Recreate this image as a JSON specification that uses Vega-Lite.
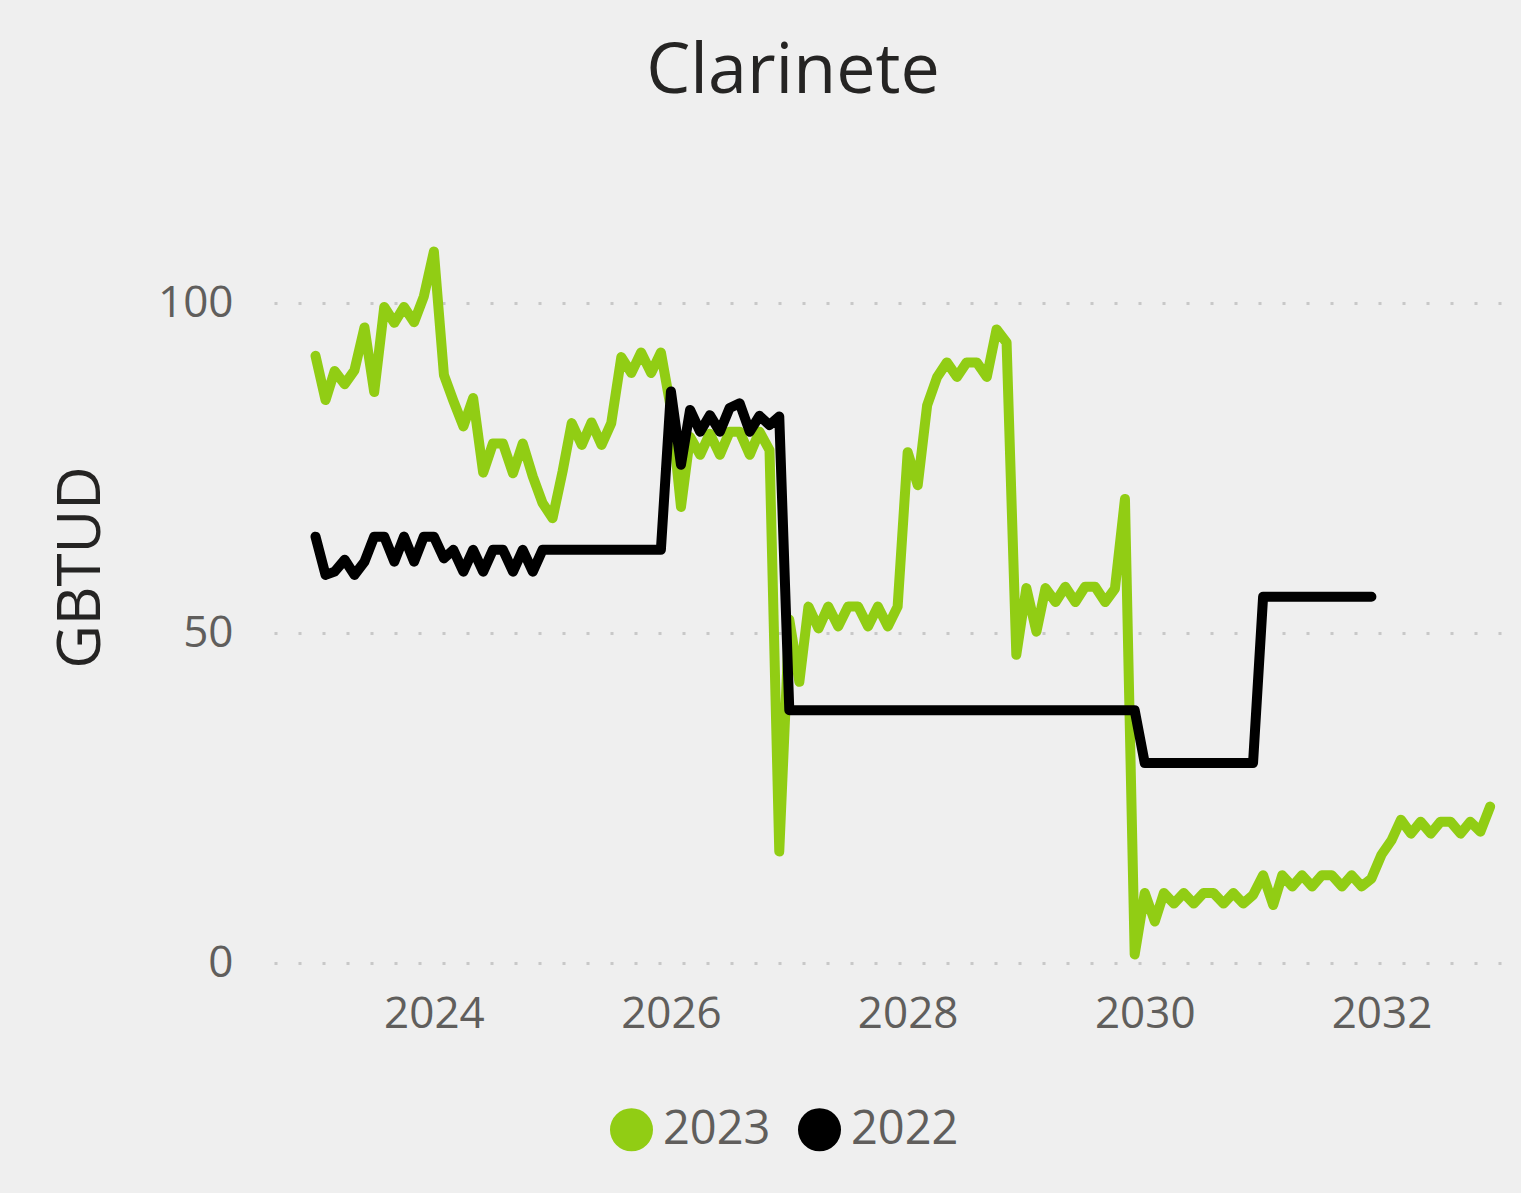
{
  "$schema": "https://vega.github.io/schema/vega-lite/v6.json",
  "autosize": "none",
  "width": 1232,
  "height": 792,
  "padding": {"left": 274, "top": 171, "right": 15, "bottom": 230},
  "background": "#efefef",
  "title": {
    "text": "Clarinete",
    "fontSize": 70,
    "font": "Segoe UI, Open Sans",
    "fontWeight": "normal",
    "color": "#252423",
    "anchor": "middle",
    "dx": -97,
    "offset": 63
  },
  "config": {
    "view": {"stroke": null},
    "font": "Segoe UI, Open Sans"
  },
  "data": {
    "format": {"parse": {"d": "date:'%Y-%m'"}},
    "values": [
      {"d":"2023-01","s":"2023","v":92.0},{"d":"2023-02","s":"2023","v":85.3},{"d":"2023-03","s":"2023","v":89.7},{"d":"2023-04","s":"2023","v":87.7},{"d":"2023-05","s":"2023","v":89.8},{"d":"2023-06","s":"2023","v":96.3},{"d":"2023-07","s":"2023","v":86.5},{"d":"2023-08","s":"2023","v":99.4},{"d":"2023-09","s":"2023","v":97.0},{"d":"2023-10","s":"2023","v":99.4},{"d":"2023-11","s":"2023","v":97.1},{"d":"2023-12","s":"2023","v":101.0},
      {"d":"2024-01","s":"2023","v":107.8},{"d":"2024-02","s":"2023","v":89.1},{"d":"2024-03","s":"2023","v":85.2},{"d":"2024-04","s":"2023","v":81.3},{"d":"2024-05","s":"2023","v":85.6},{"d":"2024-06","s":"2023","v":74.3},{"d":"2024-07","s":"2023","v":78.7},{"d":"2024-08","s":"2023","v":78.7},{"d":"2024-09","s":"2023","v":74.2},{"d":"2024-10","s":"2023","v":78.7},{"d":"2024-11","s":"2023","v":73.7},{"d":"2024-12","s":"2023","v":69.7},
      {"d":"2025-01","s":"2023","v":67.4},{"d":"2025-02","s":"2023","v":74.5},{"d":"2025-03","s":"2023","v":81.8},{"d":"2025-04","s":"2023","v":78.5},{"d":"2025-05","s":"2023","v":81.9},{"d":"2025-06","s":"2023","v":78.5},{"d":"2025-07","s":"2023","v":81.8},{"d":"2025-08","s":"2023","v":91.8},{"d":"2025-09","s":"2023","v":89.4},{"d":"2025-10","s":"2023","v":92.5},{"d":"2025-11","s":"2023","v":89.4},{"d":"2025-12","s":"2023","v":92.5},
      {"d":"2026-01","s":"2023","v":84.0},{"d":"2026-02","s":"2023","v":69.1},{"d":"2026-03","s":"2023","v":79.7},{"d":"2026-04","s":"2023","v":77.0},{"d":"2026-05","s":"2023","v":80.2},{"d":"2026-06","s":"2023","v":77.0},{"d":"2026-07","s":"2023","v":80.5},{"d":"2026-08","s":"2023","v":80.5},{"d":"2026-09","s":"2023","v":77.0},{"d":"2026-10","s":"2023","v":80.5},{"d":"2026-11","s":"2023","v":77.7},{"d":"2026-12","s":"2023","v":16.9},
      {"d":"2027-01","s":"2023","v":52.0},{"d":"2027-02","s":"2023","v":42.6},{"d":"2027-03","s":"2023","v":54.0},{"d":"2027-04","s":"2023","v":50.7},{"d":"2027-05","s":"2023","v":54.0},{"d":"2027-06","s":"2023","v":51.0},{"d":"2027-07","s":"2023","v":54.0},{"d":"2027-08","s":"2023","v":54.0},{"d":"2027-09","s":"2023","v":51.0},{"d":"2027-10","s":"2023","v":54.0},{"d":"2027-11","s":"2023","v":51.0},{"d":"2027-12","s":"2023","v":54.0},
      {"d":"2028-01","s":"2023","v":77.4},{"d":"2028-02","s":"2023","v":72.4},{"d":"2028-03","s":"2023","v":84.5},{"d":"2028-04","s":"2023","v":88.8},{"d":"2028-05","s":"2023","v":91.0},{"d":"2028-06","s":"2023","v":88.8},{"d":"2028-07","s":"2023","v":91.0},{"d":"2028-08","s":"2023","v":91.0},{"d":"2028-09","s":"2023","v":88.8},{"d":"2028-10","s":"2023","v":96.0},{"d":"2028-11","s":"2023","v":94.0},{"d":"2028-12","s":"2023","v":46.7},
      {"d":"2029-01","s":"2023","v":56.8},{"d":"2029-02","s":"2023","v":50.2},{"d":"2029-03","s":"2023","v":56.8},{"d":"2029-04","s":"2023","v":54.7},{"d":"2029-05","s":"2023","v":57.0},{"d":"2029-06","s":"2023","v":54.7},{"d":"2029-07","s":"2023","v":57.0},{"d":"2029-08","s":"2023","v":57.0},{"d":"2029-09","s":"2023","v":54.7},{"d":"2029-10","s":"2023","v":56.7},{"d":"2029-11","s":"2023","v":70.3},{"d":"2029-12","s":"2023","v":1.3},
      {"d":"2030-01","s":"2023","v":10.6},{"d":"2030-02","s":"2023","v":6.3},{"d":"2030-03","s":"2023","v":10.6},{"d":"2030-04","s":"2023","v":9.0},{"d":"2030-05","s":"2023","v":10.6},{"d":"2030-06","s":"2023","v":9.0},{"d":"2030-07","s":"2023","v":10.6},{"d":"2030-08","s":"2023","v":10.6},{"d":"2030-09","s":"2023","v":9.0},{"d":"2030-10","s":"2023","v":10.6},{"d":"2030-11","s":"2023","v":9.0},{"d":"2030-12","s":"2023","v":10.3},
      {"d":"2031-01","s":"2023","v":13.3},{"d":"2031-02","s":"2023","v":8.8},{"d":"2031-03","s":"2023","v":13.3},{"d":"2031-04","s":"2023","v":11.6},{"d":"2031-05","s":"2023","v":13.3},{"d":"2031-06","s":"2023","v":11.6},{"d":"2031-07","s":"2023","v":13.3},{"d":"2031-08","s":"2023","v":13.3},{"d":"2031-09","s":"2023","v":11.6},{"d":"2031-10","s":"2023","v":13.3},{"d":"2031-11","s":"2023","v":11.6},{"d":"2031-12","s":"2023","v":12.8},
      {"d":"2032-01","s":"2023","v":16.4},{"d":"2032-02","s":"2023","v":18.6},{"d":"2032-03","s":"2023","v":21.7},{"d":"2032-04","s":"2023","v":19.6},{"d":"2032-05","s":"2023","v":21.4},{"d":"2032-06","s":"2023","v":19.6},{"d":"2032-07","s":"2023","v":21.4},{"d":"2032-08","s":"2023","v":21.4},{"d":"2032-09","s":"2023","v":19.6},{"d":"2032-10","s":"2023","v":21.4},{"d":"2032-11","s":"2023","v":19.9},{"d":"2032-12","s":"2023","v":23.7},

      {"d":"2023-01","s":"2022","v":64.6},{"d":"2023-02","s":"2022","v":58.8},{"d":"2023-03","s":"2022","v":59.3},{"d":"2023-04","s":"2022","v":61.1},{"d":"2023-05","s":"2022","v":58.8},{"d":"2023-06","s":"2022","v":60.8},{"d":"2023-07","s":"2022","v":64.6},{"d":"2023-08","s":"2022","v":64.6},{"d":"2023-09","s":"2022","v":60.8},{"d":"2023-10","s":"2022","v":64.6},{"d":"2023-11","s":"2022","v":60.8},{"d":"2023-12","s":"2022","v":64.6},
      {"d":"2024-01","s":"2022","v":64.6},{"d":"2024-02","s":"2022","v":61.3},{"d":"2024-03","s":"2022","v":62.6},{"d":"2024-04","s":"2022","v":59.3},{"d":"2024-05","s":"2022","v":62.6},{"d":"2024-06","s":"2022","v":59.3},{"d":"2024-07","s":"2022","v":62.6},{"d":"2024-08","s":"2022","v":62.6},{"d":"2024-09","s":"2022","v":59.3},{"d":"2024-10","s":"2022","v":62.6},{"d":"2024-11","s":"2022","v":59.3},{"d":"2024-12","s":"2022","v":62.6},
      {"d":"2025-01","s":"2022","v":62.6},{"d":"2025-02","s":"2022","v":62.6},{"d":"2025-03","s":"2022","v":62.6},{"d":"2025-04","s":"2022","v":62.6},{"d":"2025-05","s":"2022","v":62.6},{"d":"2025-06","s":"2022","v":62.6},{"d":"2025-07","s":"2022","v":62.6},{"d":"2025-08","s":"2022","v":62.6},{"d":"2025-09","s":"2022","v":62.6},{"d":"2025-10","s":"2022","v":62.6},{"d":"2025-11","s":"2022","v":62.6},{"d":"2025-12","s":"2022","v":62.6},
      {"d":"2026-01","s":"2022","v":86.6},{"d":"2026-02","s":"2022","v":75.5},{"d":"2026-03","s":"2022","v":83.8},{"d":"2026-04","s":"2022","v":80.5},{"d":"2026-05","s":"2022","v":83.0},{"d":"2026-06","s":"2022","v":80.5},{"d":"2026-07","s":"2022","v":84.1},{"d":"2026-08","s":"2022","v":84.8},{"d":"2026-09","s":"2022","v":80.5},{"d":"2026-10","s":"2022","v":82.9},{"d":"2026-11","s":"2022","v":81.5},{"d":"2026-12","s":"2022","v":82.8},
      {"d":"2027-01","s":"2022","v":38.3},{"d":"2027-02","s":"2022","v":38.3},{"d":"2027-03","s":"2022","v":38.3},{"d":"2027-04","s":"2022","v":38.3},{"d":"2027-05","s":"2022","v":38.3},{"d":"2027-06","s":"2022","v":38.3},{"d":"2027-07","s":"2022","v":38.3},{"d":"2027-08","s":"2022","v":38.3},{"d":"2027-09","s":"2022","v":38.3},{"d":"2027-10","s":"2022","v":38.3},{"d":"2027-11","s":"2022","v":38.3},{"d":"2027-12","s":"2022","v":38.3},
      {"d":"2028-01","s":"2022","v":38.3},{"d":"2028-02","s":"2022","v":38.3},{"d":"2028-03","s":"2022","v":38.3},{"d":"2028-04","s":"2022","v":38.3},{"d":"2028-05","s":"2022","v":38.3},{"d":"2028-06","s":"2022","v":38.3},{"d":"2028-07","s":"2022","v":38.3},{"d":"2028-08","s":"2022","v":38.3},{"d":"2028-09","s":"2022","v":38.3},{"d":"2028-10","s":"2022","v":38.3},{"d":"2028-11","s":"2022","v":38.3},{"d":"2028-12","s":"2022","v":38.3},
      {"d":"2029-01","s":"2022","v":38.3},{"d":"2029-02","s":"2022","v":38.3},{"d":"2029-03","s":"2022","v":38.3},{"d":"2029-04","s":"2022","v":38.3},{"d":"2029-05","s":"2022","v":38.3},{"d":"2029-06","s":"2022","v":38.3},{"d":"2029-07","s":"2022","v":38.3},{"d":"2029-08","s":"2022","v":38.3},{"d":"2029-09","s":"2022","v":38.3},{"d":"2029-10","s":"2022","v":38.3},{"d":"2029-11","s":"2022","v":38.3},{"d":"2029-12","s":"2022","v":38.3},
      {"d":"2030-01","s":"2022","v":30.3},{"d":"2030-02","s":"2022","v":30.3},{"d":"2030-03","s":"2022","v":30.3},{"d":"2030-04","s":"2022","v":30.3},{"d":"2030-05","s":"2022","v":30.3},{"d":"2030-06","s":"2022","v":30.3},{"d":"2030-07","s":"2022","v":30.3},{"d":"2030-08","s":"2022","v":30.3},{"d":"2030-09","s":"2022","v":30.3},{"d":"2030-10","s":"2022","v":30.3},{"d":"2030-11","s":"2022","v":30.3},{"d":"2030-12","s":"2022","v":30.3},
      {"d":"2031-01","s":"2022","v":55.5},{"d":"2031-02","s":"2022","v":55.5},{"d":"2031-03","s":"2022","v":55.5},{"d":"2031-04","s":"2022","v":55.5},{"d":"2031-05","s":"2022","v":55.5},{"d":"2031-06","s":"2022","v":55.5},{"d":"2031-07","s":"2022","v":55.5},{"d":"2031-08","s":"2022","v":55.5},{"d":"2031-09","s":"2022","v":55.5},{"d":"2031-10","s":"2022","v":55.5},{"d":"2031-11","s":"2022","v":55.5},{"d":"2031-12","s":"2022","v":55.5}
    ]
  },
  "mark": {"type": "line", "strokeWidth": 10, "strokeJoin": "round", "strokeCap": "round"},
  "encoding": {
    "x": {
      "field": "d",
      "type": "temporal",
      "scale": {"domain": [{"year": 2022, "month": 8, "date": 26}, {"year": 2033, "month": 1, "date": 19}]},
      "axis": {
        "title": null,
        "values": [{"year": 2024, "month": 1, "date": 1}, {"year": 2026, "month": 1, "date": 1}, {"year": 2028, "month": 1, "date": 1}, {"year": 2030, "month": 1, "date": 1}, {"year": 2032, "month": 1, "date": 1}],
        "format": "%Y",
        "grid": false,
        "domain": false,
        "ticks": false,
        "tickSize": 0,
        "labelFontSize": 44,
        "labelColor": "#605e5c",
        "labelPadding": 29,
        "labelFlush": false
      }
    },
    "y": {
      "field": "v",
      "type": "quantitative",
      "scale": {"domain": [0, 120], "nice": false},
      "axis": {
        "title": "GBTUD",
        "titleFontSize": 60,
        "titleFontWeight": "normal",
        "titleColor": "#252423",
        "titlePadding": 45,
        "values": [0, 50, 100],
        "domain": false,
        "ticks": false,
        "tickSize": 0,
        "labelFontSize": 44,
        "labelColor": "#605e5c",
        "labelPadding": 41,
        "grid": true,
        "gridColor": "#c8c8c8",
        "gridWidth": 3,
        "gridDash": [3, 21]
      }
    },
    "color": {
      "field": "s",
      "type": "nominal",
      "scale": {"domain": ["2023", "2022"], "range": ["#91cd14", "#000000"]},
      "legend": {
        "title": null,
        "orient": "none",
        "direction": "horizontal",
        "legendX": 334,
        "legendY": 935,
        "padding": 0,
        "symbolType": "circle",
        "symbolSize": 1850,
        "symbolStrokeWidth": 0,
        "labelFontSize": 47,
        "labelColor": "#605e5c",
        "labelOffset": 8,
        "columnPadding": 25,
        "encode": {"symbols": {"update": {"fill": {"scale": "color", "field": "value"}, "strokeWidth": {"value": 0}, "opacity": {"value": 1}}}}
      }
    }
  }
}
